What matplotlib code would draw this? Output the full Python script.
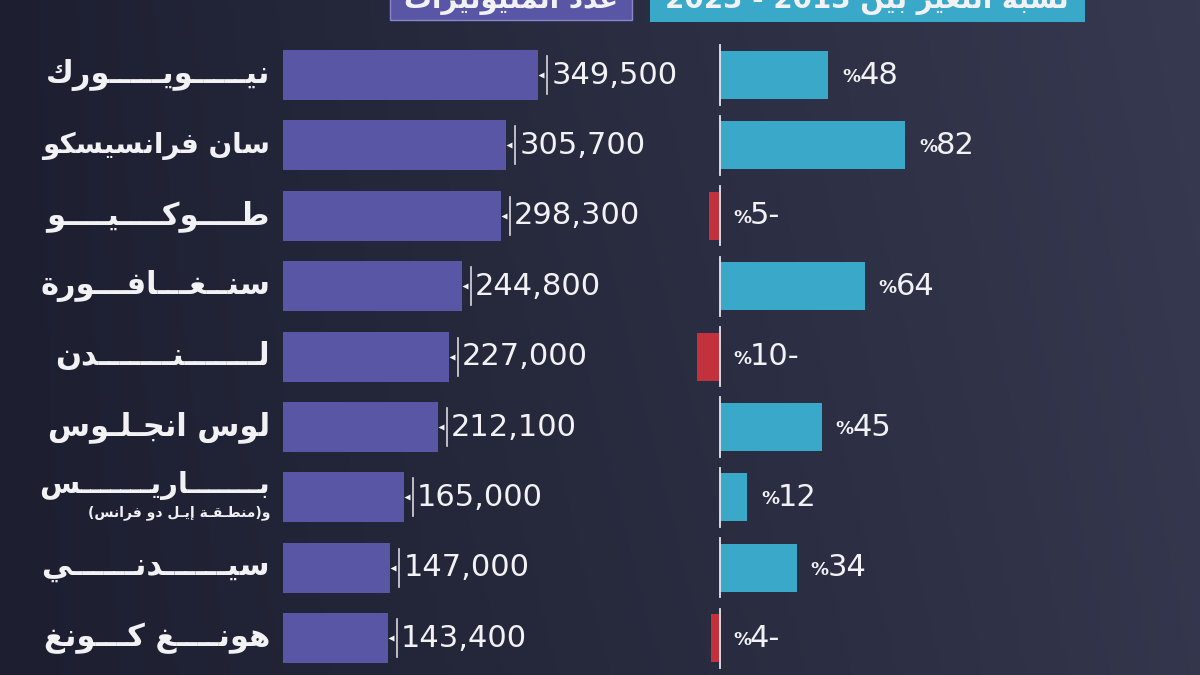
import re
import numpy as np
import matplotlib
matplotlib.use("Agg")
import matplotlib.pyplot as plt
import matplotlib.transforms as mtransforms
from matplotlib.patches import Rectangle

# ===== Data =====
cities = ["نيـــــويـــــورك", "سان فرانسيسكو", "طــــوكــــيــــو", "سنــغـــافـــورة",
          "لـــــــنـــــــدن", "لوس انجـلـوس", "بـــــــاريـــــــس", "سيــــــدنــــــي",
          "هونــــغ كـــونغ"]
paris_note = "و(منطـقـة إيـل دو فرانس)"
millionaires = [349500, 305700, 298300, 244800, 227000, 212100, 165000, 147000, 143400]
change_pct = [48, 82, -5, 64, -10, 45, 12, 34, -4]
header_left = "عدد المليونيرات"
header_right = "نسبة التغير بين 2013 - 2023"
name_sizes = [22, 20, 22, 22, 22, 22, 21, 22, 22]

PURPLE = "#5a56a6"
CYAN = "#3aa8c8"
RED = "#c3313d"
WHITE = "#f2f2f5"

# ===== minimal Arabic shaping (presentation forms) =====
FORMS = {
    "ا": ("\uFE8D", "\uFE8E", None, None),
    "إ": ("\uFE87", "\uFE88", None, None),
    "ب": ("\uFE8F", "\uFE90", "\uFE91", "\uFE92"),
    "ة": ("\uFE93", "\uFE94", None, None),
    "ت": ("\uFE95", "\uFE96", "\uFE97", "\uFE98"),
    "ج": ("\uFE9D", "\uFE9E", "\uFE9F", "\uFEA0"),
    "د": ("\uFEA9", "\uFEAA", None, None),
    "ر": ("\uFEAD", "\uFEAE", None, None),
    "س": ("\uFEB1", "\uFEB2", "\uFEB3", "\uFEB4"),
    "ط": ("\uFEC1", "\uFEC2", "\uFEC3", "\uFEC4"),
    "ع": ("\uFEC9", "\uFECA", "\uFECB", "\uFECC"),
    "غ": ("\uFECD", "\uFECE", "\uFECF", "\uFED0"),
    "ف": ("\uFED1", "\uFED2", "\uFED3", "\uFED4"),
    "ق": ("\uFED5", "\uFED6", "\uFED7", "\uFED8"),
    "ك": ("\uFED9", "\uFEDA", "\uFEDB", "\uFEDC"),
    "ل": ("\uFEDD", "\uFEDE", "\uFEDF", "\uFEE0"),
    "م": ("\uFEE1", "\uFEE2", "\uFEE3", "\uFEE4"),
    "ن": ("\uFEE5", "\uFEE6", "\uFEE7", "\uFEE8"),
    "ه": ("\uFEE9", "\uFEEA", "\uFEEB", "\uFEEC"),
    "و": ("\uFEED", "\uFEEE", None, None),
    "ي": ("\uFEF1", "\uFEF2", "\uFEF3", "\uFEF4"),
}
TATWEEL = "\u0640"


def joins_next(c):
    return c == TATWEEL or (c in FORMS and FORMS[c][2] is not None)


def ar(text):
    out = []
    for i, c in enumerate(text):
        if c not in FORMS:
            out.append(c)
            continue
        prev = text[i - 1] if i > 0 else ""
        nxt = text[i + 1] if i + 1 < len(text) else ""
        p = bool(prev) and joins_next(prev)
        n = FORMS[c][2] is not None and (nxt == TATWEEL or nxt in FORMS)
        iso, fin, ini, med = FORMS[c]
        out.append(med if (p and n) else fin if p else ini if n else iso)
    s = "".join(out)[::-1]
    s = re.sub(r"[0-9][0-9,.]*", lambda m: m.group(0)[::-1], s)
    return s.translate(str.maketrans("()", ")("))


plt.rcParams["font.family"] = ["DejaVu Sans"]

fig = plt.figure(figsize=(12, 6.75), dpi=100)
W, H = 1200, 675

# ===== background =====
bg = fig.add_axes([0, 0, 1, 1], zorder=-10)
yy, xx = np.mgrid[0:1:200j, 0:1:360j]
base = np.array([29, 31, 49]) / 255.0
light = np.array([58, 60, 84]) / 255.0
t = np.clip(0.55 * xx + 0.35 * (1 - yy) * xx + 0.25 * yy * xx ** 2, 0, 1)
img = base + (light - base) * t[..., None]
bg.imshow(img, extent=[0, 1, 0, 1], aspect="auto", origin="upper")
bg.axis("off")


def fx(px):
    return px / W


def fy(py):
    return 1 - py / H


# ===== header boxes (cut at top) =====
fig.patches.append(Rectangle((fx(390), fy(20)), fx(242), 40 / H, transform=fig.transFigure,
                             facecolor=PURPLE, edgecolor="#8a86c8", lw=1, zorder=1))
fig.patches.append(Rectangle((fx(650), fy(22)), fx(435), 40 / H, transform=fig.transFigure,
                             facecolor=CYAN, edgecolor="none", zorder=1))
fig.text(fx(511), fy(8), ar(header_left), ha="center", va="baseline", color=WHITE,
         fontsize=20, fontweight="bold", zorder=2)
fig.text(fx(867), fy(8), ar(header_right), ha="center", va="baseline", color=WHITE,
         fontsize=20, fontweight="bold", zorder=2)

# ===== axes =====
rows = np.arange(len(cities))
top_px, bot_px, row0, step = 40, 675, 75, 70.4
ylim = ((bot_px - row0) / step, (top_px - row0) / step)
ax_h = (bot_px - top_px) / H

# left panel: number of millionaires
ax1 = fig.add_axes([fx(283), 0, fx(417), ax_h])
ax1.set_xlim(0, 417 / 0.000731)
ax1.set_ylim(*ylim)
ax1.barh(rows, millionaires, height=0.71, color=PURPLE)
ax1.axis("off")

line_tr = mtransforms.offset_copy(ax1.transData, fig=fig, x=9, y=0, units="dots")
tri_tr = mtransforms.offset_copy(ax1.transData, fig=fig, x=3, y=0, units="dots")
for i, v in enumerate(millionaires):
    ax1.plot([v, v], [i - 0.27, i + 0.27], color="#d8d8e0", lw=1.2, transform=line_tr, clip_on=False)
    ax1.plot(v, i, marker="<", ms=4, color=WHITE, mec="none", transform=tri_tr, clip_on=False)
    ax1.annotate(f"{v:,}", (v, i), xytext=(13, 0), textcoords="offset pixels",
                 ha="left", va="center", color=WHITE, fontsize=22, annotation_clip=False)

# right panel: change 2013-2023
ax2 = fig.add_axes([fx(680), 0, fx(420), ax_h])
ax2.set_xlim(-40 / 2.26, 380 / 2.26)
ax2.set_ylim(*ylim)
colors = [CYAN if c >= 0 else RED for c in change_pct]
ax2.barh(rows, change_pct, height=0.68, color=colors)
for i in rows:
    ax2.plot([0, 0], [i - 0.42, i + 0.42], color="#e6e6ee", lw=1.3)
ax2.axis("off")

for i, c in enumerate(change_pct):
    start = max(c, 0)
    gap = 14 if c >= 0 else 13
    ax2.annotate("%", (start, i), xytext=(gap, -2), textcoords="offset pixels",
                 ha="left", va="center", color=WHITE, fontsize=13, fontweight="bold",
                 annotation_clip=False)
    label = f"{abs(c)}" + ("-" if c < 0 else "")
    ax2.annotate(label, (start, i), xytext=(gap + 17, 0), textcoords="offset pixels",
                 ha="left", va="center", color=WHITE, fontsize=22, annotation_clip=False)

# ===== city names =====
for i, name in enumerate(cities):
    y = row0 + step * i
    if i == 6:
        fig.text(fx(270), fy(y - 12), ar(name), ha="right", va="center", color=WHITE,
                 fontsize=name_sizes[i], fontweight="bold")
        fig.text(fx(270), fy(y + 15), ar(paris_note), ha="right", va="center", color=WHITE,
                 fontsize=10, fontweight="bold")
    else:
        fig.text(fx(270), fy(y), ar(name), ha="right", va="center", color=WHITE,
                 fontsize=name_sizes[i], fontweight="bold")

fig.savefig("out.png", dpi=100)
